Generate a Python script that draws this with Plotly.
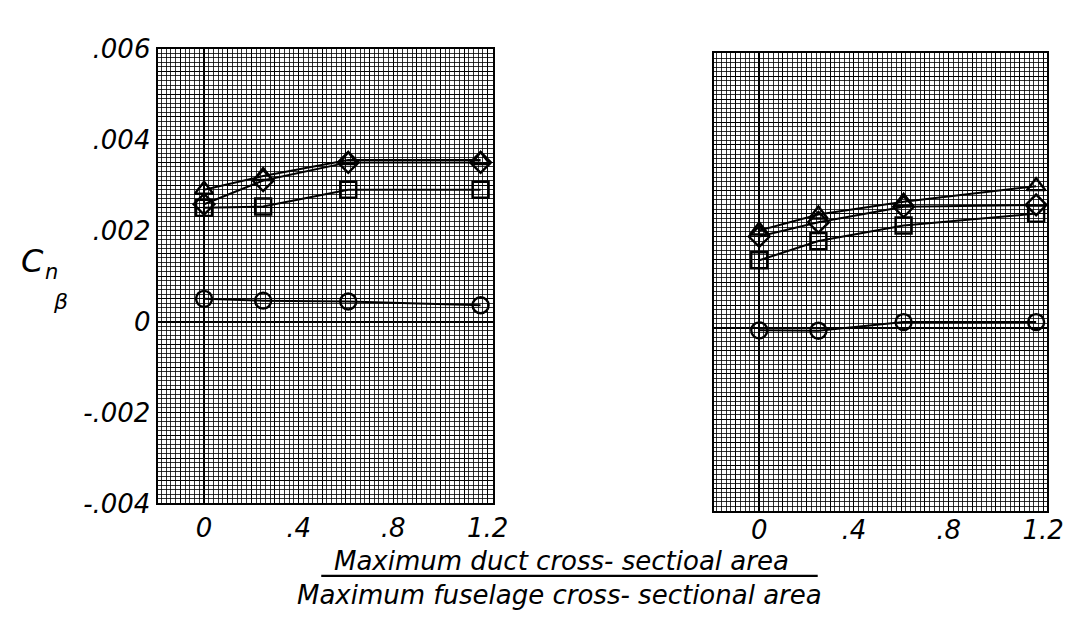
import numpy as np
import plotly.graph_objects as go

# ---- data ----
x_ratio = [0, 0.25, 0.61, 1.17]

left_circle = [0.00050, 0.00046, 0.00044, 0.00036]
left_square = [0.00250, 0.00253, 0.00290, 0.00290]
left_diamond = [0.00258, 0.00310, 0.00350, 0.00350]
left_triangle = [0.00290, 0.00320, 0.00355, 0.00355]

right_circle = [-0.00005, -0.00006, 0.00013, 0.00013]
right_square = [0.00148, 0.00190, 0.00224, 0.00250]
right_diamond = [0.00200, 0.00231, 0.00265, 0.00269]
right_triangle = [0.00213, 0.00248, 0.00276, 0.00310]

x_tick_vals = [0, 0.4, 0.8, 1.2]
x_tick_text = ["0", ".4", ".8", "1.2"]
y_tick_vals = [0.006, 0.004, 0.002, 0, -0.002, -0.004]
y_tick_text = [".006", ".004", ".002", "0", "-.002", "-.004"]

W, H = 1071, 618
FONT = "DejaVu Sans"

def px_x(p):
    return p / W

def px_y(p):
    return 1 - p / H

fig = go.Figure()

series = [
    ("circle-open", "left", left_circle),
    ("square-open", "left", left_square),
    ("diamond-open", "left", left_diamond),
    ("triangle-up-open", "left", left_triangle),
    ("circle-open", "right", right_circle),
    ("square-open", "right", right_square),
    ("diamond-open", "right", right_diamond),
    ("triangle-up-open", "right", right_triangle),
]
for sym, side, vals in series:
    fig.add_trace(go.Scatter(
        x=x_ratio, y=vals, mode="lines+markers",
        line=dict(color="black", width=2),
        marker=dict(symbol=sym, size=16, color="black",
                    line=dict(color="black", width=2.4)),
        xaxis="x" if side == "left" else "x2",
        yaxis="y" if side == "left" else "y2",
        showlegend=False, hoverinfo="skip",
    ))

# graph-paper grid positions, with labels only at the labelled values
x_grid = [round(v, 2) for v in np.arange(-0.2, 1.2001, 0.1)]
y_grid = [round(v, 5) for v in np.arange(-0.004, 0.00601, 0.0005)]

def label_for(v, vals, texts):
    for tv, tt in zip(vals, texts):
        if abs(tv - v) < 1e-9:
            return tt
    return ""

x_text = [label_for(v, x_tick_vals, x_tick_text) for v in x_grid]
y_text = [label_for(v, y_tick_vals, y_tick_text) for v in y_grid]

minor_col = "rgba(0,0,0,0.8)"
major_col = "black"

def xaxis(domain, rng, anchor, standoff):
    return dict(
        domain=domain, range=rng, anchor=anchor,
        tickmode="array", tickvals=x_grid, ticktext=x_text,
        showgrid=True, gridcolor=major_col, gridwidth=1.4,
        minor=dict(tickmode="linear", tick0=0, dtick=0.02, showgrid=True,
                   gridcolor=minor_col, gridwidth=0.7),
        zeroline=True, zerolinecolor="black", zerolinewidth=2.4,
        showline=True, mirror=True, linecolor="black", linewidth=2.2,
        ticks="", ticklabelstandoff=standoff,
        tickfont=dict(family=FONT, size=26, style="italic", color="black"),
        fixedrange=True,
    )

def yaxis(domain, anchor, labels):
    return dict(
        domain=domain, range=[-0.004, 0.006], anchor=anchor,
        tickmode="array", tickvals=y_grid, ticktext=y_text,
        showticklabels=labels,
        showgrid=True, gridcolor=major_col, gridwidth=1.4,
        minor=dict(tickmode="linear", tick0=0, dtick=0.0001, showgrid=True,
                   gridcolor=minor_col, gridwidth=0.7),
        zeroline=True, zerolinecolor="black", zerolinewidth=2.4,
        showline=True, mirror=True, linecolor="black", linewidth=2.2,
        ticks="", tickfont=dict(family=FONT, size=26, style="italic", color="black"),
        fixedrange=True,
    )

fig.update_layout(
    width=W, height=H, autosize=False,
    margin=dict(l=0, r=0, t=0, b=0),
    paper_bgcolor="white", plot_bgcolor="white",
    xaxis=xaxis([px_x(152), px_x(492)], [-0.196, 1.221], "y", 0),
    yaxis=yaxis([px_y(505), px_y(27)], "x", True),
    xaxis2=xaxis([px_x(717), px_x(1055)], [-0.19, 1.217], "y2", -5),
    yaxis2=yaxis([px_y(513), px_y(32)], "x2", False),
)

ann_font = dict(family=FONT, color="black")

def text_at(txt, xp, yp, size):
    fig.add_annotation(text=txt, x=px_x(xp), y=px_y(yp), xref="paper", yref="paper",
                       xanchor="center", yanchor="middle", showarrow=False,
                       font=dict(size=size, **ann_font))

text_at("<i>Maximum duct cross- sectioal area</i>", 562, 565, 26)
text_at("<i>Maximum fuselage cross- sectional area</i>", 560, 601, 26)
fig.add_shape(type="line", xref="paper", yref="paper",
              x0=px_x(318), x1=px_x(822), y0=px_y(581), y1=px_y(581),
              line=dict(color="black", width=2.2))

# y-axis title C_n_beta
text_at("<i>C</i>", 25, 250, 32)
text_at("<i>n</i>", 44, 262, 21)
text_at("<i>β</i>", 53, 293, 22)

fig.write_html("out.html")
